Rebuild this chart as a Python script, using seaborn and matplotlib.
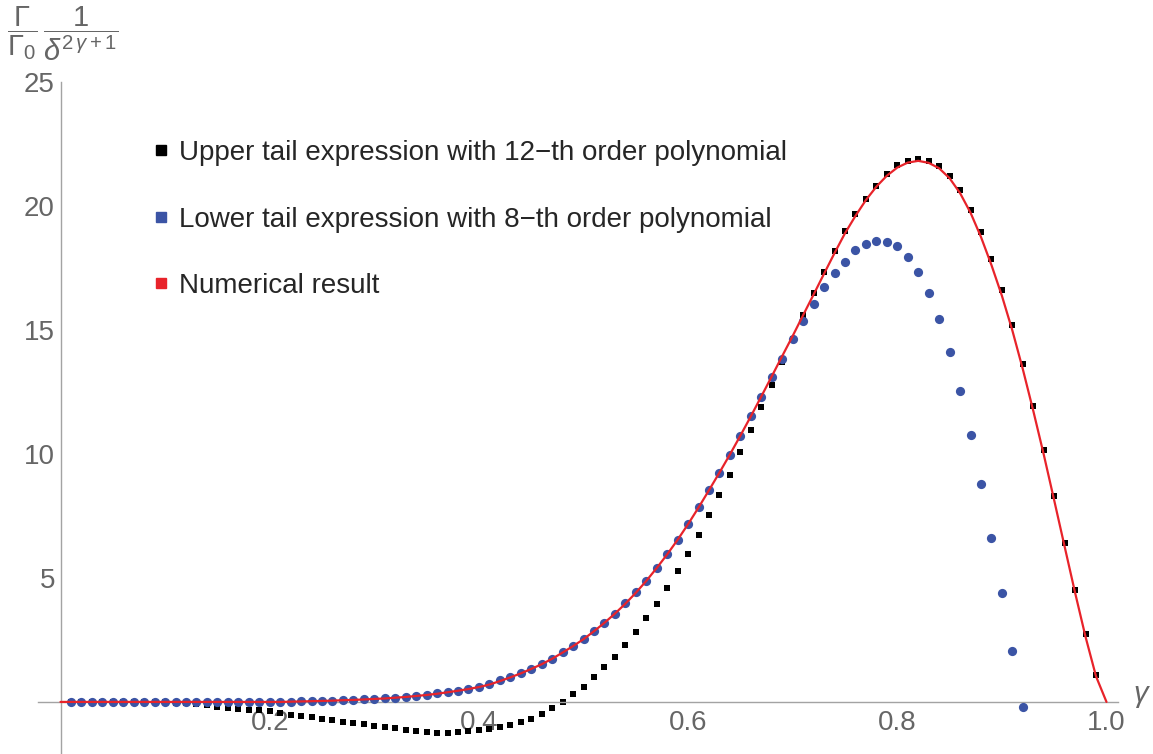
import numpy as np
import pandas as pd
import matplotlib
matplotlib.use("Agg")
import matplotlib.pyplot as plt
import seaborn as sns
from matplotlib.lines import Line2D
from matplotlib.ticker import FixedLocator, NullFormatter

# ---- data -------------------------------------------------------------
gamma_grid = np.round(np.arange(0, 101) / 100, 2)

# upper tail expression (12-th order polynomial), gamma = 0.01 ... 0.99
upper_tail = [
    0.00, 0.00, 0.00, 0.00, 0.00, 0.00, 0.00, 0.00, -0.01, -0.02,
    -0.04, -0.06, -0.09, -0.13, -0.20, -0.25, -0.28, -0.31, -0.34, -0.38,
    -0.44, -0.51, -0.56, -0.62, -0.68, -0.72, -0.80, -0.85, -0.91, -0.97,
    -1.01, -1.07, -1.12, -1.17, -1.21, -1.24, -1.25, -1.22, -1.19, -1.14,
    -1.08, -1.02, -0.95, -0.82, -0.68, -0.50, -0.24, -0.01, 0.31, 0.62,
    1.01, 1.40, 1.83, 2.30, 2.81, 3.38, 3.94, 4.60, 5.28, 5.98,
    6.75, 7.53, 8.36, 9.17, 10.08, 10.96, 11.90, 12.80, 13.71, 14.62,
    15.59, 16.49, 17.34, 18.19, 18.98, 19.66, 20.30, 20.82, 21.31, 21.64,
    21.80, 21.91, 21.81, 21.60, 21.21, 20.63, 19.85, 18.95, 17.88, 16.61,
    15.20, 13.64, 11.95, 10.17, 8.32, 6.40, 4.50, 2.73, 1.09,
]

# lower tail expression (8-th order polynomial), gamma = 0.01 ... 0.92
lower_tail = [
    0.00, 0.00, 0.00, 0.00, 0.00, 0.00, 0.00, 0.00, 0.00, 0.00,
    0.00, 0.00, 0.00, 0.00, 0.00, 0.00, 0.00, 0.00, 0.00, 0.00,
    0.00, 0.01, 0.03, 0.03, 0.04, 0.05, 0.07, 0.08, 0.10, 0.12,
    0.14, 0.16, 0.20, 0.24, 0.28, 0.34, 0.40, 0.46, 0.52, 0.60,
    0.71, 0.88, 1.01, 1.17, 1.34, 1.52, 1.73, 2.00, 2.26, 2.52,
    2.86, 3.20, 3.56, 3.97, 4.42, 4.88, 5.40, 5.97, 6.53, 7.17,
    7.85, 8.54, 9.23, 9.95, 10.71, 11.52, 12.29, 13.10, 13.83, 14.63,
    15.36, 16.05, 16.73, 17.30, 17.76, 18.21, 18.47, 18.60, 18.55, 18.38,
    17.94, 17.34, 16.48, 15.44, 14.10, 12.54, 10.78, 8.79, 6.63, 4.38,
    2.06, -0.20,
]

# numerical result, gamma = 0.00 ... 1.00
numerical = [
    0.00, 0.00, 0.00, 0.00, 0.00, 0.00, 0.00, 0.00, 0.00, 0.00,
    0.00, 0.00, 0.00, 0.00, 0.00, 0.00, 0.00, 0.00, 0.00, 0.00,
    0.00, 0.00, 0.01, 0.02, 0.03, 0.04, 0.05, 0.07, 0.08, 0.10,
    0.12, 0.14, 0.17, 0.20, 0.24, 0.28, 0.33, 0.39, 0.45, 0.52,
    0.60, 0.70, 0.84, 0.99, 1.15, 1.33, 1.52, 1.74, 1.99, 2.25,
    2.53, 2.85, 3.19, 3.56, 3.96, 4.40, 4.88, 5.40, 5.95, 6.54,
    7.17, 7.84, 8.54, 9.25, 9.98, 10.74, 11.52, 12.32, 13.13, 13.95,
    14.76, 15.60, 16.43, 17.27, 18.10, 18.90, 19.60, 20.24, 20.78, 21.22,
    21.55, 21.75, 21.82, 21.74, 21.52, 21.12, 20.52, 19.73, 18.75, 17.62,
    16.38, 14.98, 13.42, 11.74, 9.98, 8.13, 6.26, 4.40, 2.62, 1.03,
    0.00,
]

legend_labels = [
    "Upper tail expression with 12\u2212th order polynomial",
    "Lower tail expression with 8\u2212th order polynomial",
    "Numerical result",
]
x_major = [0.2, 0.4, 0.6, 0.8, 1.0]
y_major = [5, 10, 15, 20, 25]

# ---- style ------------------------------------------------------------
sns.set_style("white")
plt.rcParams["font.family"] = ["Liberation Sans", "DejaVu Sans"]
plt.rcParams["mathtext.fontset"] = "custom"
plt.rcParams["mathtext.rm"] = "Liberation Sans"
plt.rcParams["mathtext.it"] = "Liberation Sans:italic"

BLACK = "#000000"
BLUE = "#3b54a5"
RED = "#e8232a"
AXIS_GRAY = "#a3a3a3"
LABEL_GRAY = "#666666"

upper_df = pd.DataFrame({"gamma": gamma_grid[1:1 + len(upper_tail)], "value": upper_tail})
lower_df = pd.DataFrame({"gamma": gamma_grid[1:1 + len(lower_tail)], "value": lower_tail})
num_df = pd.DataFrame({"gamma": gamma_grid[:len(numerical)], "value": numerical})

fig = plt.figure(figsize=(11.53, 7.54), dpi=100)
ax = fig.add_axes([37.5 / 1153, 0.0, (1118 - 37.5) / 1153, (754 - 82) / 754])

sns.scatterplot(data=upper_df, x="gamma", y="value", marker="s", color=BLACK,
                s=24, linewidth=0, ax=ax, zorder=2, legend=False)
sns.scatterplot(data=lower_df, x="gamma", y="value", marker="o", color=BLUE,
                s=44, linewidth=0, ax=ax, zorder=3, legend=False)
sns.lineplot(data=num_df, x="gamma", y="value", color=RED, linewidth=1.6,
             ax=ax, zorder=4, legend=False)

ax.set_xlim(-0.022, 1.011)
ax.set_ylim(-2.1, 25.0)

# axes crossing at the origin
for side in ("top", "right"):
    ax.spines[side].set_visible(False)
ax.spines["left"].set_position(("data", 0))
ax.spines["bottom"].set_position(("data", 0))
for side in ("left", "bottom"):
    ax.spines[side].set_color(AXIS_GRAY)
    ax.spines[side].set_linewidth(1.0)

ax.xaxis.set_major_locator(FixedLocator(x_major))
ax.xaxis.set_minor_locator(FixedLocator([v / 100 for v in range(5, 100, 5) if v % 20]))
ax.yaxis.set_major_locator(FixedLocator(y_major))
ax.yaxis.set_minor_locator(FixedLocator([v for v in range(-2, 25) if v % 5]))
ax.set_xticklabels(["0.2", "0.4", "0.6", "0.8", "1.0"])
ax.set_yticklabels([str(v) for v in y_major])
ax.xaxis.set_minor_formatter(NullFormatter())
ax.yaxis.set_minor_formatter(NullFormatter())

ax.tick_params(which="both", direction="in", color=AXIS_GRAY, width=0.8,
               labelcolor=LABEL_GRAY, labelsize=20)
ax.tick_params(which="major", length=4.5)
ax.tick_params(which="minor", length=2.5)
ax.tick_params(axis="x", which="major", pad=6)
ax.tick_params(axis="y", which="major", pad=4)
ax.set_xlabel("")
ax.set_ylabel("")
ax.grid(False)

# axis labels
ax.text(1.026, 0.0, "\u03b3", style="italic", fontsize=21, color=LABEL_GRAY,
        ha="left", va="baseline", clip_on=False)
fig.text(0.006, 0.994, r"$\dfrac{\Gamma}{\Gamma_0}\,\dfrac{1}{\delta^{2\,\gamma+1}}$",
         ha="left", va="top", fontsize=21, color=LABEL_GRAY)

# legend
handles = [Line2D([], [], marker="s", linestyle="", color=c, markersize=7)
           for c in (BLACK, BLUE, RED)]
ax.legend(handles, legend_labels, loc="upper left",
          bbox_to_anchor=(154 / 1153, 1 - 140 / 754), bbox_transform=fig.transFigure,
          frameon=False, fontsize=20, handlelength=0.5, handletextpad=0.4,
          labelspacing=1.46, borderpad=0, borderaxespad=0)

fig.savefig("out.png", dpi=100)
